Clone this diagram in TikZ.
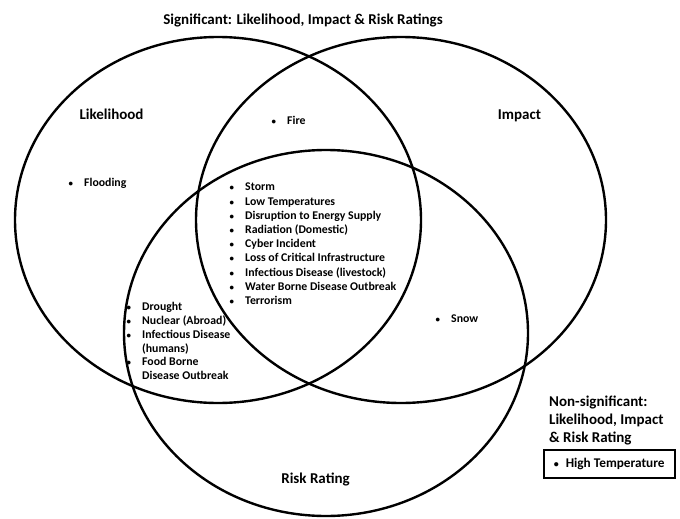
\documentclass[tikz,border=0pt]{standalone}
\usepackage{fontspec}
\setmainfont{Carlito}
\usetikzlibrary{positioning}
\newcommand{\bl}[1][15.5pt]{\makebox[#1][l]{\scalebox{0.75}{\textbullet}}}
\newcommand{\hang}{\makebox[15.5pt]{}}
\newcommand{\itemfont}{\fontsize{11.8}{14.2}\selectfont\bfseries}
\newcommand{\headfont}{\fontsize{15}{18}\selectfont\bfseries}

\begin{document}
\begin{tikzpicture}[
    x=1pt, y=-1pt,
    set/.style={line width=2.4pt},
    lbl/.style={inner sep=0pt, anchor=base, font=\headfont},
    items/.style={inner sep=0pt, anchor=base west, font=\itemfont},
    note/.style={draw, line width=1.5pt, inner xsep=10pt, inner ysep=0pt,
                 minimum height=28pt, font=\fontsize{13.3}{16}\selectfont\bfseries},
]
\useasboundingbox (0,0) rectangle (680,519);
% the three sets
\draw[set] (218,220) ellipse [x radius=203pt, y radius=183pt];
\draw[set] (401,220) ellipse [x radius=205pt, y radius=183pt];
\draw[set] (326,333) ellipse [x radius=202pt, y radius=183pt];

\node[lbl] (title) at (303,24.7) {Significant: Likelihood, Impact \& Risk Ratings};
\node[lbl] (likeLbl) at (111.5,119.7) {Likelihood};
\node[lbl] (impactLbl) at (519.5,119.7) {Impact};
\node[lbl] (riskLbl) at (315.5,483.7) {Risk Rating};

% hazards in each region
\node[items] (fire) at (271.5,124.8) {\bl Fire};
\node[items] (flood) at (68.5,186.8) {\bl Flooding};
\node[items] (snow) at (435.5,322.8) {\bl Snow};
\node[items] (core) at (229.5,190.8) {\begin{tabular}[t]{@{}l@{}}
  \bl Storm\\
  \bl Low Temperatures\\
  \bl Disruption to Energy Supply\\
  \bl Radiation (Domestic)\\
  \bl Cyber Incident\\
  \bl Loss of Critical Infrastructure\\
  \bl Infectious Disease (livestock)\\
  \bl Water Borne Disease Outbreak\\
  \bl Terrorism
\end{tabular}};
\node[items, font=\fontsize{11.8}{13.7}\selectfont\bfseries] (dry) at (126.5,310.9) {\begin{tabular}[t]{@{}l@{}}
  \bl Drought\\
  \bl Nuclear (Abroad)\\
  \bl Infectious Disease\\
  \hang (humans)\\
  \bl Food Borne\\
  \hang Disease Outbreak
\end{tabular}};

% non-significant
\node[items, font=\headfont] (nsHead) at (549,406.7) {\begin{tabular}[t]{@{}l@{}}
  Non-significant:\\
  Likelihood, Impact\\
  \& Risk Rating
\end{tabular}};
\node[note, below right=1pt and -6pt of nsHead.south west] (nsBox)
  {\makebox[111pt][l]{\bl[12pt]High Temperature}};
\end{tikzpicture}
\end{document}
